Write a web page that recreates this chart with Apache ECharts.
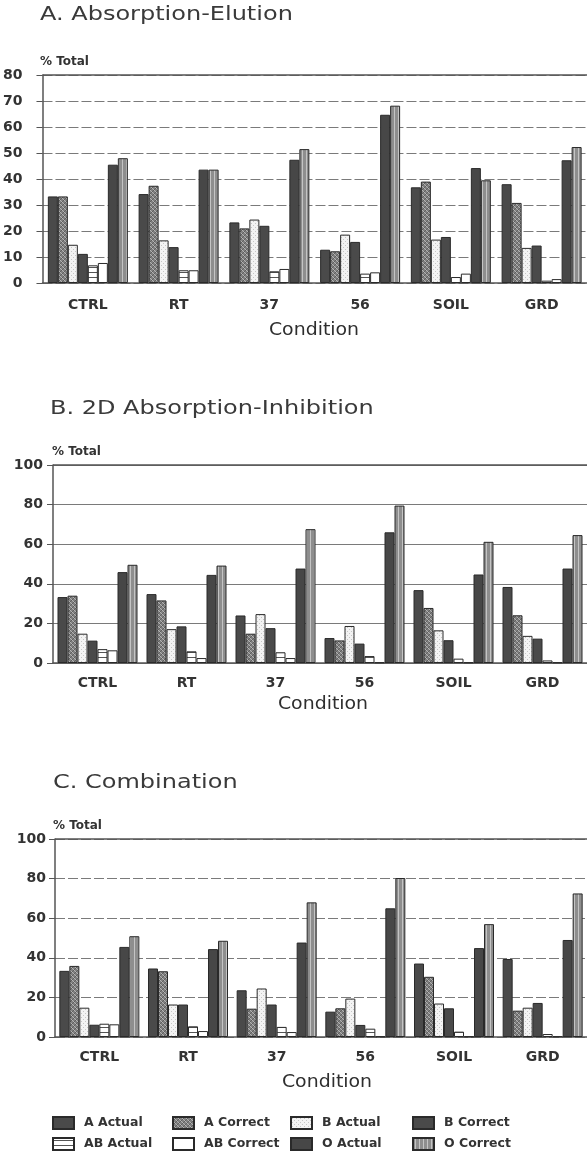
<!DOCTYPE html>
<html>
<head>
<meta charset="utf-8">
<script src="https://cdn.jsdelivr.net/npm/echarts@6/dist/echarts.min.js"></script>
<style>html,body{margin:0;padding:0;background:#fff}#c{width:587px;height:1155px}</style>
</head>
<body>
<div id="c"></div>
<script>
// ---------- data ----------
const categories = ['CTRL', 'RT', '37', '56', 'SOIL', 'GRD'];
const seriesNames = ['A Actual', 'A Correct', 'B Actual', 'B Correct', 'AB Actual', 'AB Correct', 'O Actual', 'O Correct'];
const panelTitles = ['A. Absorption-Elution', 'B. 2D Absorption-Inhibition', 'C. Combination'];
const yMax = [80, 100, 100];
const yInterval = [10, 20, 20];

// Panel A: Absorption-Elution
const elutionAActual   = [33.3, 34.2, 23.3, 12.8, 36.8, 38.0];
const elutionACorrect  = [33.3, 37.4, 21.0, 12.2, 39.0, 30.8];
const elutionBActual   = [14.7, 16.4, 24.4, 18.6, 16.7, 13.5];
const elutionBCorrect  = [11.2, 13.8, 22.0, 15.8, 17.7, 14.4];
const elutionABActual  = [6.8, 4.9, 4.5, 3.6, 2.3, 0.9];
const elutionABCorrect = [7.7, 4.9, 5.4, 4.1, 3.6, 1.5];
const elutionOActual   = [45.5, 43.6, 47.4, 64.7, 44.2, 47.2];
const elutionOCorrect  = [48.0, 43.6, 51.5, 68.2, 39.5, 52.3];

// Panel B: 2D Absorption-Inhibition
const inhibAActual   = [33.3, 34.8, 24.0, 12.6, 36.8, 38.4];
const inhibACorrect  = [34.0, 31.6, 14.8, 11.4, 27.8, 24.1];
const inhibBActual   = [14.8, 17.1, 24.7, 18.7, 16.5, 13.7];
const inhibBCorrect  = [11.3, 18.5, 17.6, 9.8, 11.5, 12.3];
const inhibABActual  = [7.0, 5.9, 5.4, 3.5, 2.2, 1.3];
const inhibABCorrect = [6.4, 2.5, 2.5, 0.3, 0.3, 0.3];
const inhibOActual   = [45.9, 44.5, 47.7, 66.0, 44.7, 47.7];
const inhibOCorrect  = [49.6, 49.2, 67.6, 79.5, 61.2, 64.6];

// Panel C: Combination
const combAActual   = [33.4, 34.6, 23.6, 12.8, 37.1, 39.4];
const combACorrect  = [35.9, 33.2, 14.3, 14.5, 30.4, 13.3];
const combBActual   = [14.8, 16.4, 24.5, 19.4, 16.9, 14.8];
const combBCorrect  = [6.2, 16.4, 16.4, 6.1, 14.5, 17.2];
const combABActual  = [6.7, 5.4, 5.1, 4.2, 2.7, 1.5];
const combABCorrect = [6.4, 3.0, 2.5, 0.3, 0.3, 0.3];
const combOActual   = [45.5, 44.4, 47.7, 65.0, 44.9, 49.0];
const combOCorrect  = [50.9, 48.6, 68.0, 80.3, 57.0, 72.5];

const panelData = [
  [elutionAActual, elutionACorrect, elutionBActual, elutionBCorrect, elutionABActual, elutionABCorrect, elutionOActual, elutionOCorrect],
  [inhibAActual, inhibACorrect, inhibBActual, inhibBCorrect, inhibABActual, inhibABCorrect, inhibOActual, inhibOCorrect],
  [combAActual, combACorrect, combBActual, combBCorrect, combABActual, combABCorrect, combOActual, combOCorrect]
];

// ---------- patterns ----------
function pattern(w, h, draw) {
  const c = document.createElement('canvas');
  c.width = w; c.height = h;
  draw(c.getContext('2d'));
  return { image: c, repeat: 'repeat' };
}
const hatch = pattern(4, 4, ctx => {
  ctx.fillStyle = '#808080'; ctx.fillRect(0, 0, 4, 4);
  ctx.fillStyle = '#b4b4b4';
  for (let i = 0; i < 4; i++) ctx.fillRect(i, i, 1, 1);
  ctx.fillStyle = '#5e5e5e';
  for (let i = 0; i < 4; i++) ctx.fillRect(3 - i, i, 1, 1);
});
const dots = pattern(4, 4, ctx => {
  ctx.fillStyle = '#f3f3f3'; ctx.fillRect(0, 0, 4, 4);
  ctx.fillStyle = '#c6c6c6'; ctx.fillRect(1, 1, 1, 1); ctx.fillRect(3, 3, 1, 1);
});
const hlines = pattern(4, 5, ctx => {
  ctx.fillStyle = '#ffffff'; ctx.fillRect(0, 0, 4, 5);
  ctx.fillStyle = '#555555'; ctx.fillRect(0, 2, 4, 1);
});
const vlines = pattern(4, 1, ctx => {
  ctx.fillStyle = '#8e8e8e'; ctx.fillRect(0, 0, 4, 1);
  ctx.fillStyle = '#c4c4c4'; ctx.fillRect(2, 0, 1, 1);
});
const fills = ['#4a4a4a', hatch, dots, '#4a4a4a', hlines, '#ffffff', '#474747', vlines];

// ---------- layout ----------
const grids = [
  { left: 41, top: 75, width: 549, height: 208 },
  { left: 53, top: 465, width: 540, height: 198 },
  { left: 55, top: 839, width: 542, height: 198 }
];
const xLabelMargin = [15, 13, 13];
const yLabelMargin = [20, 10, 9];
const splitType = [[10, 3], 'solid', [10, 3]];

const FONT = 'DejaVu Sans';
const txtColor = '#333';

const xAxes = [], yAxes = [], series = [];
for (let p = 0; p < 3; p++) {
  xAxes.push({
    type: 'category', gridIndex: p, data: categories,
    axisLine: { lineStyle: { color: '#555', width: 1.5 } },
    axisTick: { alignWithLabel: true, length: 5, lineStyle: { color: '#555' } },
    axisLabel: { margin: xLabelMargin[p], fontFamily: FONT, fontWeight: 'bold', fontSize: 14, color: txtColor }
  });
  yAxes.push({
    type: 'value', gridIndex: p, min: 0, max: yMax[p], interval: yInterval[p],
    axisLine: { show: true, lineStyle: { color: '#555', width: 1.5 } },
    axisTick: { show: true, length: 6, lineStyle: { color: '#555' } },
    axisLabel: { margin: yLabelMargin[p], fontFamily: FONT, fontWeight: 'bold', fontSize: 14, color: txtColor },
    splitLine: { lineStyle: { color: '#7a7a7a', width: 1, type: splitType[p] } }
  });
  for (let s = 0; s < 8; s++) {
    const ser = {
      type: 'bar', name: seriesNames[s], xAxisIndex: p, yAxisIndex: p,
      data: panelData[p][s], barWidth: 10, barGap: '0%',
      itemStyle: { color: fills[s], borderColor: '#2a2a2a', borderWidth: 1 },
      emphasis: { disabled: true }, animation: false
    };
    if (s === 0) {
      ser.markLine = {
        silent: true, symbol: 'none', label: { show: false },
        lineStyle: { color: '#555', width: 1.5, type: 'solid' },
        data: [{ yAxis: yMax[p] }]
      };
    }
    series.push(ser);
  }
}

// ---------- texts ----------
const titlePos = [[40, 15], [50, 409], [53, 783]];
const totalPos = [[40, 62], [52, 452], [53, 826]];
const condPos = [[314, 330], [323, 704], [327, 1082]];
const graphic = [];
for (let p = 0; p < 3; p++) {
  graphic.push({ type: 'text', x: titlePos[p][0], y: titlePos[p][1], scaleX: 1.2,
    style: { text: panelTitles[p], fontFamily: FONT, fontSize: 20, fill: '#3a3a3a', textVerticalAlign: 'middle' } });
  graphic.push({ type: 'text', x: totalPos[p][0], y: totalPos[p][1],
    style: { text: '% Total', fontFamily: FONT, fontWeight: 'bold', fontSize: 12, fill: txtColor, textVerticalAlign: 'middle' } });
  graphic.push({ type: 'text', x: condPos[p][0], y: condPos[p][1], scaleX: 1.05,
    style: { text: 'Condition', fontFamily: FONT, fontSize: 18, fill: '#2e2e2e', textAlign: 'center', textVerticalAlign: 'middle' } });
}

// ---------- legend (one component per entry, 4 columns x 2 rows) ----------
const legendOrder = ['A Actual', 'A Correct', 'B Actual', 'B Correct', 'AB Actual', 'AB Correct', 'O Actual', 'O Correct'];
const legendLeft = [52, 172, 290, 412];
const legendTop = [1116, 1137];
const legends = legendOrder.map((name, i) => ({
  left: legendLeft[i % 4], top: legendTop[Math.floor(i / 4)], padding: 0,
  itemWidth: 21, itemHeight: 12, icon: 'rect', selectedMode: false,
  data: [name],
  textStyle: { fontFamily: FONT, fontWeight: 'bold', fontSize: 12.5, color: txtColor, padding: [0, 0, 0, 5] }
}));

const chart = echarts.init(document.getElementById('c'), null, { renderer: 'canvas' });
chart.setOption({
  backgroundColor: '#fff',
  animation: false,
  grid: grids,
  xAxis: xAxes,
  yAxis: yAxes,
  legend: legends,
  graphic: graphic,
  series: series
});
</script>
</body>
</html>
